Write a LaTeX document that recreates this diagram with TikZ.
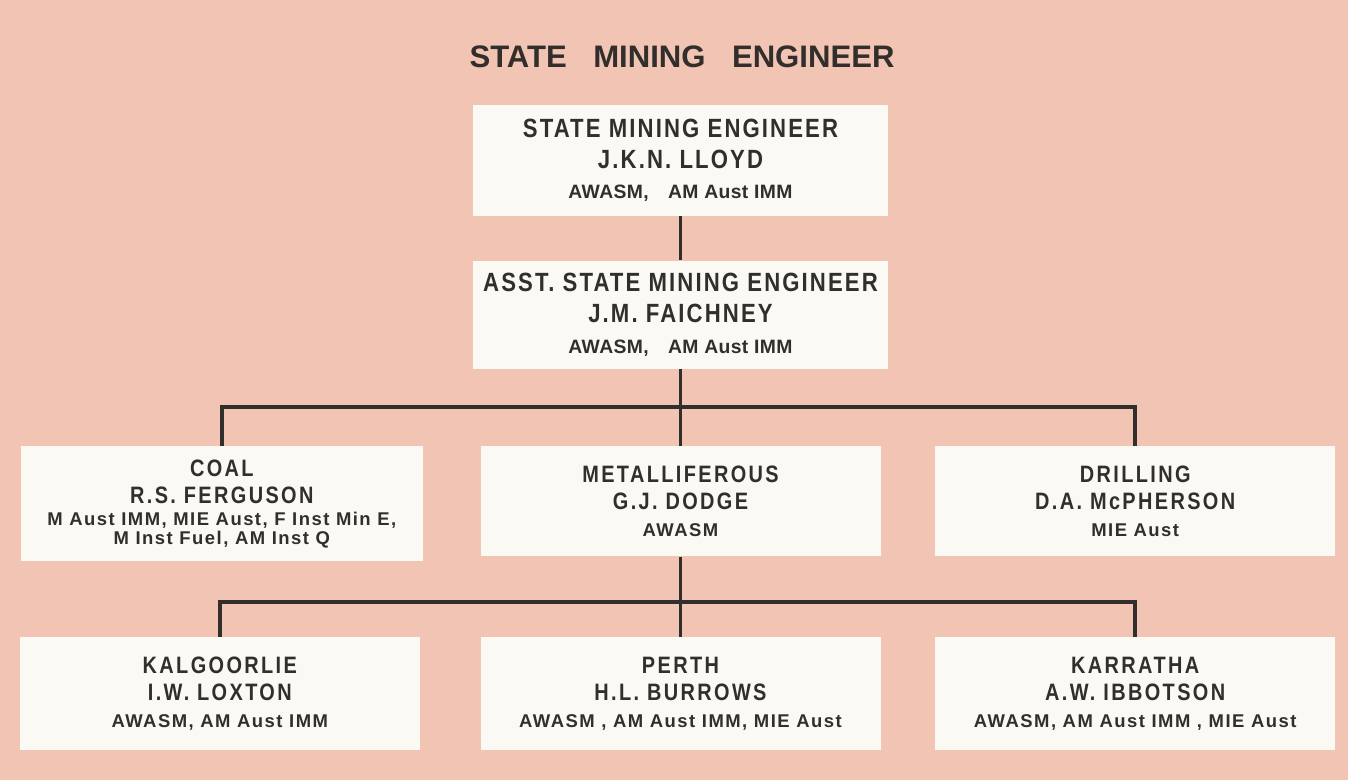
\documentclass[tikz,border=0pt]{standalone}
\usepackage{fontspec}
\setmainfont[FakeStretch=0.84]{Liberation Sans}
\newfontfamily\titlefont{Liberation Sans}
\usetikzlibrary{positioning}

\definecolor{chartbg}{RGB}{242,196,180}
\definecolor{boxfill}{RGB}{251,249,244}
\definecolor{inkgray}{RGB}{50,46,44}

\newcommand{\qualsbig}{\titlefont\bfseries\addfontfeature{LetterSpace=2}\fontsize{11}{14}\selectfont}
\newcommand{\quals}{\titlefont\bfseries\addfontfeature{LetterSpace=8}\fontsize{10.5}{12.5}\selectfont}

\begin{document}
\begin{tikzpicture}[
  post/.style={fill=boxfill, text=inkgray, align=center, inner sep=0pt,
    minimum width=8cm, minimum height=2.2cm,
    font=\bfseries\addfontfeature{LetterSpace=10}\fontsize{13.5}{15.5}\selectfont},
  chief/.style={post, minimum width=8.3cm,
    font=\bfseries\addfontfeature{LetterSpace=8}\fontsize{15}{17.5}\selectfont},
  conn/.style={draw=inkgray, line width=2.2pt}
]
  % Page
  \fill[chartbg] (0,0) rectangle (26.96,-15.6);
  \node[text=inkgray, font=\titlefont\bfseries\fontsize{17.7}{20}\selectfont] (heading) at (13.64,-1.14)
    {STATE\hspace{0.85em}MINING\hspace{0.85em}ENGINEER};
  % Posts
  \node[chief, minimum height=2.22cm] (sme) at (13.61,-3.21)
    {STATE MINING ENGINEER\\J.K.N. LLOYD\\{\qualsbig AWASM,\quad AM Aust IMM}};
  \node[chief, minimum height=2.16cm, below=0.88cm of sme] (asst)
    {ASST. STATE MINING ENGINEER\\J.M. FAICHNEY\\{\qualsbig AWASM,\quad AM Aust IMM}};
  \node[post, below=1.54cm of asst] (metal)
    {METALLIFEROUS\\G.J. DODGE\\{\quals AWASM}};
  \node[post, minimum width=8.04cm, minimum height=2.3cm, left=1.14cm of metal.north west, anchor=north east] (coal)
    {COAL\\R.S. FERGUSON\\[-3pt]{\quals M Aust IMM, MIE Aust,\ F Inst\ Min E,}\\[-5pt]{\quals M Inst Fuel, AM Inst Q}};
  \node[post, right=1.08cm of metal] (drill)
    {DRILLING\\D.A. McPHERSON\\{\quals MIE Aust}};
  \node[post, minimum height=2.26cm, below=1.6cm of metal] (perth)
    {PERTH\\H.L. BURROWS\\{\quals AWASM , AM Aust IMM, MIE Aust}};
  \node[post, minimum height=2.26cm, left=1.2cm of perth] (kalg)
    {KALGOORLIE\\I.W. LOXTON\\{\quals AWASM, AM Aust IMM}};
  \node[post, minimum height=2.26cm, right=1.08cm of perth] (karr)
    {KARRATHA\\A.W. IBBOTSON\\{\quals AWASM, AM Aust IMM , MIE Aust}};
  % Lines
  \coordinate[below=0.76cm of asst] (bus1);
  \coordinate[below=0.9cm of metal] (bus2);
  \draw[conn] (sme) -- (asst);
  \draw[conn] (asst) -- (metal);
  \draw[conn] (coal.north) |- (bus1) -| (drill.north);
  \draw[conn] (metal) -- (perth);
  \draw[conn] (kalg.north) |- (bus2) -| (karr.north);
\end{tikzpicture}
\end{document}
